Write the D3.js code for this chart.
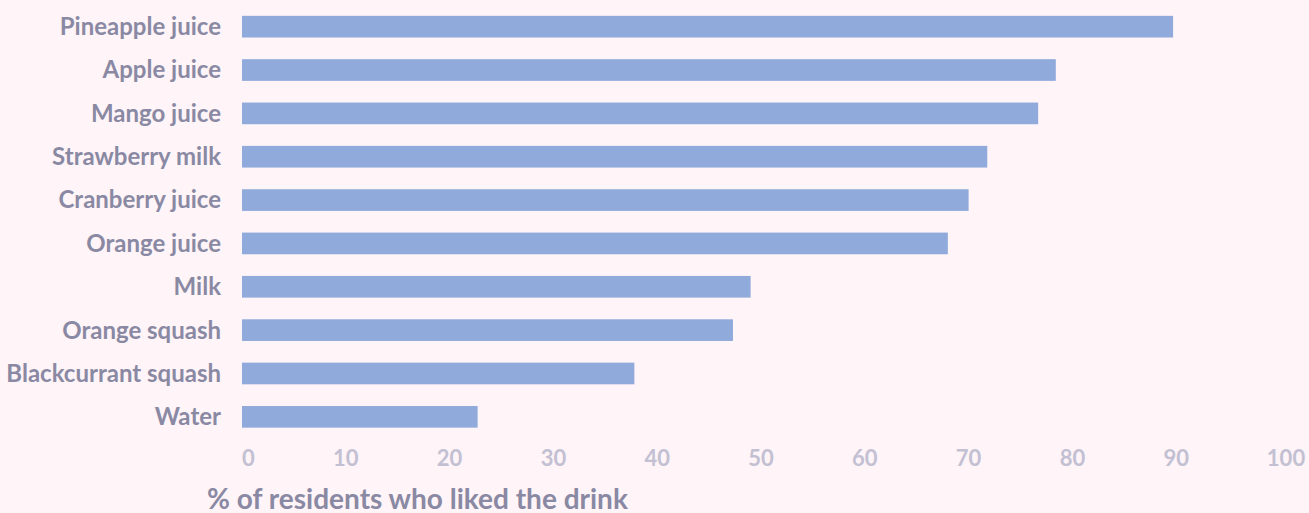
<!DOCTYPE html>
<html>
<head>
<meta charset="utf-8">
<script src="https://cdn.jsdelivr.net/npm/d3@7"></script>
<style>
  html, body { margin: 0; padding: 0; background: #fff4f7; }
  svg { display: block; }
  .cat { font-family: Lato, sans-serif; font-weight: 700; font-size: 24px; fill: #8a89a4; }
  .tick-label { font-family: Lato, sans-serif; font-weight: 700; font-size: 22px; fill: #c2c0d2; }
  .axis-title { font-family: Lato, sans-serif; font-weight: 700; font-size: 28px; fill: #8a89a4; }
</style>
</head>
<body>
<div id="chart"></div>
<script>
// Data
const drinks = [
  'Pineapple juice', 'Apple juice', 'Mango juice', 'Strawberry milk',
  'Cranberry juice', 'Orange juice', 'Milk', 'Orange squash',
  'Blackcurrant squash', 'Water'
];
const liked = [89.7, 78.4, 76.7, 71.8, 70.0, 68.0, 49.0, 47.3, 37.8, 22.7];
const ticks = [0, 10, 20, 30, 40, 50, 60, 70, 80, 90, 100];
const axisTitle = '% of residents who liked the drink';

const width = 1309;
const height = 513;

const svg = d3
  .select('#chart')
  .append('svg')
  .attr('width', width)
  .attr('height', height);

const x = d3.scaleLinear().domain([0, 100]).range([242, 1280]);

const y = d3
  .scaleBand()
  .domain(drinks)
  .range([5, 438.5])
  .paddingInner(0.5)
  .paddingOuter(0.25);

// bars
svg
  .append('g')
  .selectAll('rect')
  .data(drinks)
  .join('rect')
  .attr('x', x(0))
  .attr('y', (d) => y(d))
  .attr('width', (d, i) => x(liked[i]) - x(0))
  .attr('height', y.bandwidth())
  .attr('fill', '#8faadb');

// category labels
svg
  .append('g')
  .selectAll('text')
  .data(drinks)
  .join('text')
  .attr('class', 'cat')
  .attr('x', 221)
  .attr('y', (d) => y(d) + y.bandwidth() / 2)
  .attr('dy', '0.35em')
  .attr('text-anchor', 'end')
  .text((d) => d);

// x tick labels
svg
  .append('g')
  .selectAll('text')
  .data(ticks)
  .join('text')
  .attr('class', 'tick-label')
  .attr('x', (d, i) => (i == ticks.length - 1 ? x(d) + 6 : x(d)))
  .attr('y', 466)
  .attr('text-anchor', (d, i) => (i == 0 ? 'start' : 'middle'))
  .text((d) => d);

svg
  .append('text')
  .attr('class', 'axis-title')
  .attr('x', 207)
  .attr('y', 509)
  .text(axisTitle);
</script>
</body>
</html>
